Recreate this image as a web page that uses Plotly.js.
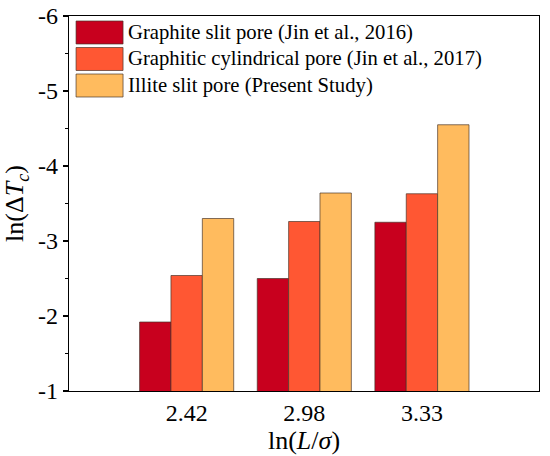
<!DOCTYPE html>
<html>
<head>
<meta charset="utf-8">
<script src="https://cdn.plot.ly/plotly-3.0.1.min.js"></script>
<style>html,body{margin:0;padding:0;background:#fff;}#chart{width:550px;height:456px;}</style>
</head>
<body>
<div id="chart"></div>
<script>
const categories = ["2.42", "2.98", "3.33"];
const seriesNames = [
  "Graphite slit pore (Jin et al., 2016)",
  "Graphitic cylindrical pore (Jin et al., 2017)",
  "Illite slit pore (Present Study)"
];
const graphiteSlit = [-1.92, -2.50, -3.25];
const graphiticCyl = [-2.54, -3.26, -3.63];
const illiteSlit = [-3.30, -3.64, -4.55];
const yTickVals = [-1, -2, -3, -4, -5, -6];
const yTickText = ["-1", "-2", "-3", "-4", "-5", "-6"];

const colors = ["#C8001E", "#FF5733", "#FFBB5E"];
const seriesValues = [graphiteSlit, graphiticCyl, illiteSlit];
const FONT = "'Liberation Serif', 'Times New Roman', Times, serif";

const traces = seriesValues.map((vals, i) => ({
  type: "bar",
  x: categories,
  y: vals,
  name: seriesNames[i],
  marker: {color: colors[i], line: {color: "rgba(70,50,40,0.85)", width: 0.8}},
  showlegend: false,
  hoverinfo: "x+y"
}));

// custom legend (large swatches like the reference)
const shapes = [];
const annotations = [];
const legX0 = 0.015, legX1 = 0.115, rowTop = 0.9867, rowH = 0.0707, swH = 0.0613;
seriesNames.forEach((n, i) => {
  const yTop = rowTop - i * rowH;
  shapes.push({type: "rect", xref: "paper", yref: "paper",
    x0: legX0, x1: legX1, y0: yTop - swH, y1: yTop,
    fillcolor: colors[i], line: {color: "rgba(70,50,40,0.85)", width: 0.8}});
  annotations.push({xref: "paper", yref: "paper", x: legX1 + 0.006, y: yTop - swH / 2,
    xanchor: "left", yanchor: "middle", text: n, showarrow: false,
    font: {family: FONT, size: 20.7, color: "#000"}});
});

const layout = {
  width: 550, height: 456,
  margin: {l: 69, r: 11, t: 16, b: 65},
  paper_bgcolor: "#fff", plot_bgcolor: "#fff",
  font: {family: FONT, color: "#000"},
  barmode: "group", bargap: 0.2, bargroupgap: 0,
  xaxis: {
    type: "category", range: [-1, 2.995],
    showline: true, mirror: true, linecolor: "#000", linewidth: 1.3,
    ticks: "", showgrid: false, zeroline: false,
    tickfont: {family: FONT, size: 24, color: "#000"},
    title: {text: "ln(<i>L</i>/<i>σ</i>)", font: {family: FONT, size: 26, color: "#000"}, standoff: 0}
  },
  yaxis: {
    range: [-1, -6],
    showline: true, mirror: true, linecolor: "#000", linewidth: 1.3,
    ticks: "outside", ticklen: 5, tickwidth: 1.2, tickcolor: "#000",
    tickvals: yTickVals, ticktext: yTickText,
    minor: {dtick: 0.5, ticks: "outside", ticklen: 3, tickwidth: 1.2, tickcolor: "#000", showgrid: false},
    showgrid: false, zeroline: false,
    tickfont: {family: FONT, size: 24, color: "#000"},
    title: {text: "ln(Δ<i>T</i><sub><i>c</i></sub>)", font: {family: FONT, size: 26, color: "#000"}, standoff: 6}
  },
  shapes: shapes,
  annotations: annotations
};

Plotly.newPlot("chart", traces, layout, {displayModeBar: false, staticPlot: true});
</script>
</body>
</html>
